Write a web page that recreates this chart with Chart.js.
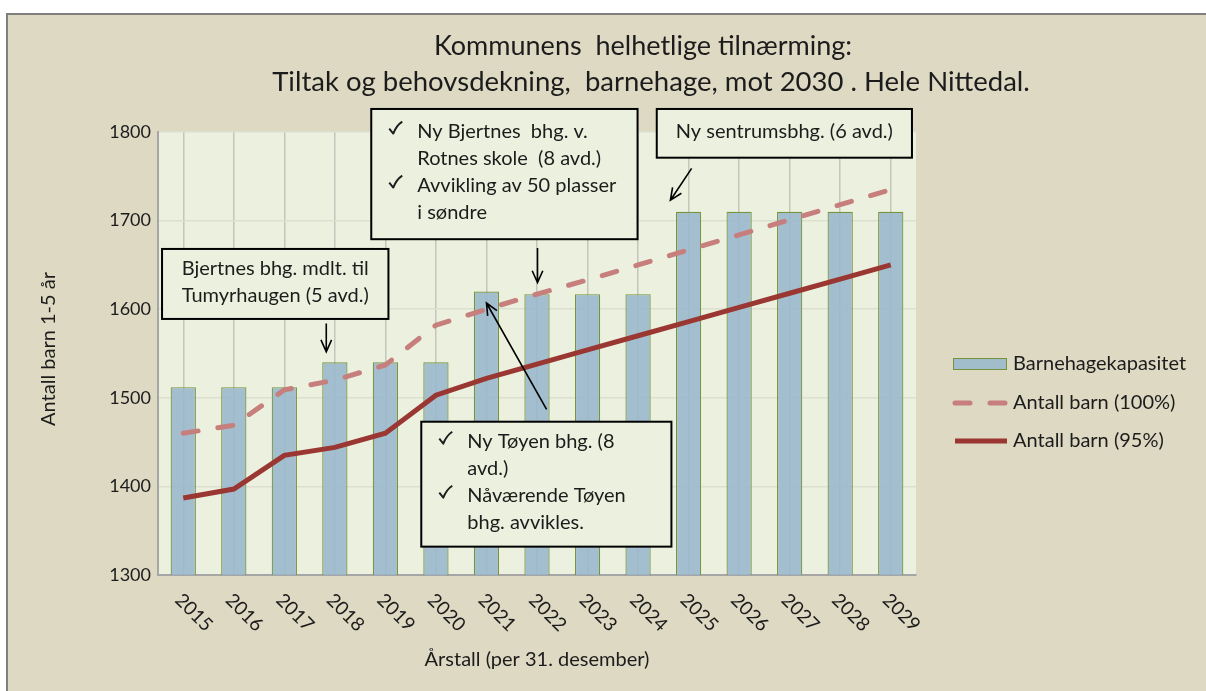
<!DOCTYPE html>
<html>
<head>
<meta charset="utf-8">
<script src="https://cdn.jsdelivr.net/npm/chart.js@4"></script>
<style>
  html, body { margin: 0; padding: 0; background: #fff; }
</style>
</head>
<body>
<canvas id="grafik" width="1206" height="691"></canvas>
<script>
const years = ["2015", "2016", "2017", "2018", "2019", "2020", "2021", "2022", "2023", "2024", "2025", "2026", "2027", "2028", "2029"];
const kapasitet = [1512, 1512, 1512, 1540, 1540, 1540, 1620, 1617, 1617, 1617, 1710, 1710, 1710, 1710, 1710];
const barn100 = [1460, 1469, 1509, 1520, 1537, 1582, 1600, 1617, 1633, 1650, 1667, 1684, 1701, 1718, 1735];
const barn95 = [1387, 1397, 1435, 1444, 1460, 1503, 1522, 1538, 1554, 1570, 1586, 1602, 1618, 1634, 1650];
const yMin = 1300, yMax = 1800, yStep = 100;

const tittel = ["Kommunens  helhetlige tilnærming:", "Tiltak og behovsdekning,  barnehage, mot 2030 . Hele Nittedal."];
const yTittel = "Antall barn 1-5 år";
const xTittel = "Årstall (per 31. desember)";

// tekstbokser og piler, plassert i dataenheter (kategoriindeks, antall barn)
const notater = [
  { x0: -0.42, x1: 4.06, y0: 1668, y1: 1589, midt: true,
    linjer: [{ t: "Bjertnes bhg. mdlt. til" }, { t: "Tumyrhaugen (5 avd.)" }] },
  { x0: 3.72, x1: 8.99, y0: 1826, y1: 1679, midt: false,
    linjer: [{ sjekk: true, t: "Ny Bjertnes  bhg. v." }, { t: "Rotnes skole  (8 avd.)" },
             { sjekk: true, t: "Avvikling av 50 plasser" }, { t: "i søndre" }] },
  { x0: 9.37, x1: 14.42, y0: 1826, y1: 1771, midt: true,
    linjer: [{ t: "Ny sentrumsbhg. (6 avd.)" }] },
  { x0: 4.71, x1: 9.66, y0: 1473, y1: 1332, midt: false,
    linjer: [{ sjekk: true, t: "Ny Tøyen bhg. (8" }, { t: "avd.)" },
             { sjekk: true, t: "Nåværende Tøyen" }, { t: "bhg. avvikles." }] }
];
const piler = [
  { fra: [2.83, 1584], til: [2.83, 1552] },
  { fra: [7.01, 1669], til: [7.01, 1630] },
  { fra: [10.06, 1759], til: [9.64, 1723] },
  { fra: [7.19, 1487], til: [6.0, 1607] }
];

const FONT = "Lato, Carlito, Calibri, sans-serif";
const TEKST = "#1c1c1c";
const BAKGRUNN = "#ddd9c3";
const PLOTT = "#ebf1de";

function hake(ctx, x, y) {
  // liten hake, x/y = øvre venstre hjørne
  ctx.save();
  ctx.strokeStyle = TEKST;
  ctx.lineWidth = 1.9;
  ctx.lineJoin = "round";
  ctx.beginPath();
  ctx.moveTo(x, y + 7);
  ctx.lineTo(x + 4, y + 12);
  ctx.quadraticCurveTo(x + 7, y + 4, x + 13, y);
  ctx.stroke();
  ctx.restore();
}

const tegnPlugin = {
  id: "tegn",
  beforeDraw(chart) {
    const ctx = chart.ctx, a = chart.chartArea;
    ctx.save();
    ctx.fillStyle = "#ffffff";
    ctx.fillRect(0, 0, chart.width, chart.height);
    ctx.fillStyle = BAKGRUNN;
    ctx.fillRect(7, 14, chart.width - 7, chart.height - 14);
    ctx.strokeStyle = "#7f7f7f";
    ctx.lineWidth = 2;
    ctx.beginPath();
    ctx.moveTo(7, chart.height);
    ctx.lineTo(7, 14);
    ctx.lineTo(chart.width, 14);
    ctx.stroke();
    ctx.fillStyle = PLOTT;
    ctx.fillRect(a.left, a.top, a.right - a.left, a.bottom - a.top);
    ctx.restore();
  },
  afterDraw(chart) {
    const ctx = chart.ctx, a = chart.chartArea;
    const xs = chart.scales.x, ys = chart.scales.y;
    ctx.save();
    ctx.fillStyle = TEKST;

    // tittel
    ctx.font = "27px " + FONT;
    ctx.textAlign = "center";
    ctx.textBaseline = "middle";
    ctx.fillText(tittel[0], 643, 46);
    ctx.font = "27.5px " + FONT;
    ctx.fillText(tittel[1], 651, 82);

    // aksetitler
    ctx.font = "20px " + FONT;
    ctx.fillText(xTittel, (a.left + a.right) / 2, 660);
    ctx.save();
    ctx.translate(49, 349);
    ctx.rotate(-Math.PI / 2);
    ctx.fillText(yTittel, 0, 0);
    ctx.restore();

    // skrå årstall
    ctx.font = "19px " + FONT;
    ctx.textAlign = "left";
    years.forEach((y, i) => {
      ctx.save();
      ctx.translate(xs.getPixelForValue(i) - 5, a.bottom + 22);
      ctx.rotate(Math.PI / 4);
      ctx.fillText(y, 0, 0);
      ctx.restore();
    });

    // forklaring
    const ds = chart.data.datasets;
    const rader = [364, 403, 441];
    const lx = 953, lw = 54;
    ctx.textBaseline = "middle";
    ctx.font = "20px " + FONT;
    const bar = ds[2];
    ctx.fillStyle = bar.backgroundColor;
    ctx.fillRect(lx, rader[0] - 6, lw, 12);
    ctx.strokeStyle = bar.borderColor;
    ctx.lineWidth = 1;
    ctx.strokeRect(lx + 0.5, rader[0] - 5.5, lw - 1, 11);
    [ds[1], ds[0]].forEach((d, k) => {
      ctx.strokeStyle = d.borderColor;
      ctx.lineWidth = d.borderWidth;
      ctx.lineCap = d.borderCapStyle || "butt";
      ctx.setLineDash(d.borderDash || []);
      ctx.beginPath();
      ctx.moveTo(lx + 2, rader[k + 1]);
      ctx.lineTo(lx + lw, rader[k + 1]);
      ctx.stroke();
    });
    ctx.setLineDash([]);
    ctx.lineCap = "butt";
    ctx.fillStyle = TEKST;
    ctx.fillText(bar.label, lx + lw + 6, rader[0]);
    ctx.fillText(ds[1].label, lx + lw + 6, rader[1]);
    ctx.fillText(ds[0].label, lx + lw + 6, rader[2]);

    // piler
    ctx.strokeStyle = "#000";
    ctx.lineWidth = 1.6;
    piler.forEach(p => {
      const x1 = xs.getPixelForValue(p.fra[0]), y1 = ys.getPixelForValue(p.fra[1]);
      const x2 = xs.getPixelForValue(p.til[0]), y2 = ys.getPixelForValue(p.til[1]);
      const v = Math.atan2(y2 - y1, x2 - x1);
      ctx.beginPath();
      ctx.moveTo(x1, y1);
      ctx.lineTo(x2, y2);
      ctx.moveTo(x2 - 13 * Math.cos(v - 0.42), y2 - 13 * Math.sin(v - 0.42));
      ctx.lineTo(x2, y2);
      ctx.lineTo(x2 - 13 * Math.cos(v + 0.42), y2 - 13 * Math.sin(v + 0.42));
      ctx.stroke();
    });

    // tekstbokser
    notater.forEach(n => {
      const l = xs.getPixelForValue(n.x0), r = xs.getPixelForValue(n.x1);
      const t = ys.getPixelForValue(n.y0), b = ys.getPixelForValue(n.y1);
      ctx.fillStyle = PLOTT;
      ctx.fillRect(l, t, r - l, b - t);
      ctx.strokeStyle = "#000";
      ctx.lineWidth = 2;
      ctx.strokeRect(l, t, r - l, b - t);
      const midtY = (t + b) / 2 - 2;
      n.linjer.forEach((ln, i) => {
        const y = midtY + (i - (n.linjer.length - 1) / 2) * 27;
        ctx.fillStyle = TEKST;
        if (n.midt) {
          ctx.textAlign = "center";
          ctx.font = "20px " + FONT;
          ctx.fillText(ln.t, (l + r) / 2, y);
        } else {
          ctx.textAlign = "left";
          if (ln.sjekk) hake(ctx, l + 18, y - 10);
          ctx.font = "20px " + FONT;
          ctx.fillText(ln.t, l + 46, y);
        }
      });
    });
    ctx.restore();
  }
};

new Chart(document.getElementById("grafik"), {
  type: "bar",
  data: {
    labels: years,
    datasets: [
      {
        type: "line",
        label: "Antall barn (95%)",
        data: barn95,
        borderColor: "#9b3733",
        borderWidth: 5,
        pointRadius: 0,
        tension: 0,
        order: 0
      },
      {
        type: "line",
        label: "Antall barn (100%)",
        data: barn100,
        borderColor: "#c67f7c",
        borderWidth: 5,
        borderDash: [15, 20],
        borderCapStyle: "round",
        pointRadius: 0,
        tension: 0,
        order: 1
      },
      {
        label: "Barnehagekapasitet",
        data: kapasitet,
        backgroundColor: "rgba(150,182,204,0.85)",
        borderColor: "#77933c",
        borderWidth: 1.2,
        barPercentage: 0.5,
        categoryPercentage: 1,
        order: 2
      }
    ]
  },
  options: {
    responsive: false,
    animation: false,
    devicePixelRatio: 1,
    layout: { padding: { top: 132, right: 290, left: 0, bottom: 0 } },
    plugins: { legend: { display: false }, title: { display: false }, tooltip: { enabled: false } },
    scales: {
      x: {
        grid: { offset: false, color: "#c4c6bc", lineWidth: 1.5, drawTicks: false },
        border: { color: "#a6a6a6", width: 2 },
        ticks: { display: false },
        afterFit(s) { s.height = 691 - 575; }
      },
      y: {
        min: yMin,
        max: yMax,
        grid: { color: "#dcdfcf", lineWidth: 1.5, drawTicks: false },
        border: { color: "#a6a6a6", width: 2 },
        ticks: {
          stepSize: yStep,
          padding: 7,
          color: TEKST,
          font: { family: FONT, size: 18 },
          callback: v => String(v)
        },
        afterFit(s) { s.width = 158; }
      }
    }
  },
  plugins: [tegnPlugin]
});
</script>
</body>
</html>
